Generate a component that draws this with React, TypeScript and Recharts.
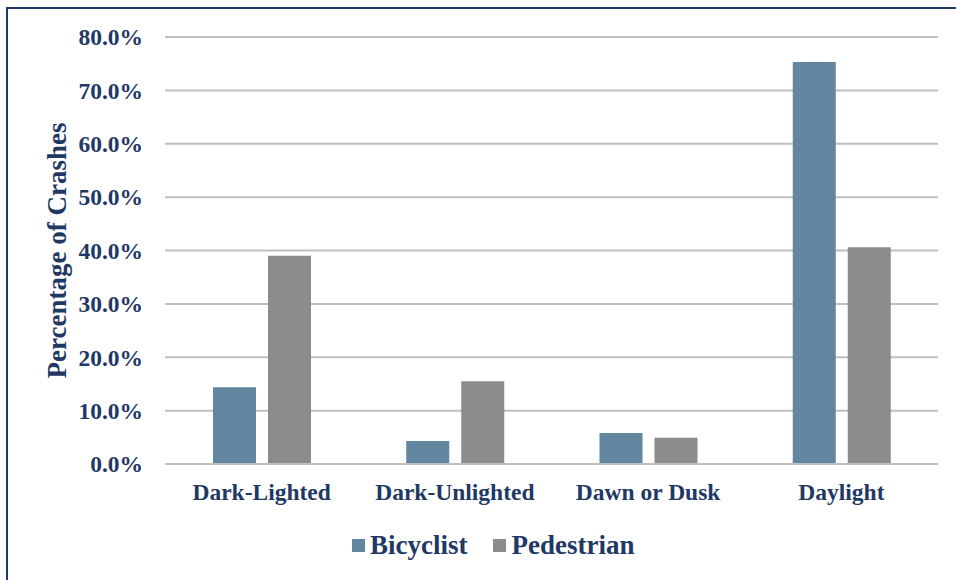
import { BarChart, Bar, XAxis, YAxis, CartesianGrid, Legend } from 'recharts';

const categories = ['Dark-Lighted', 'Dark-Unlighted', 'Dawn or Dusk', 'Daylight'];
const bicyclist = [14.4, 4.3, 5.8, 75.3];
const pedestrian = [39.0, 15.5, 4.9, 40.6];
const yTicks = [0, 10, 20, 30, 40, 50, 60, 70, 80];

const NAVY = '#1f3864';
const FONT = '"Liberation Serif", "Times New Roman", serif';
const BIKE_COLOR = '#62869f';
const PED_COLOR = '#8c8c8c';

const chartData = categories.map((name, i) => ({
  name,
  Bicyclist: bicyclist[i],
  Pedestrian: pedestrian[i],
}));

const tickStyle = { fill: NAVY, fontSize: 23.5, fontWeight: 700, fontFamily: FONT };

function LegendContent() {
  const items = [
    { label: 'Bicyclist', color: BIKE_COLOR },
    { label: 'Pedestrian', color: PED_COLOR },
  ];
  return (
    <div style={{ display: 'flex', alignItems: 'center', gap: 26, height: 36, paddingLeft: 352 }}>
      {items.map((it) => (
        <div key={it.label} style={{ display: 'flex', alignItems: 'center', gap: 5 }}>
          <span style={{ width: 13, height: 13, background: it.color, display: 'inline-block' }} />
          <span style={{ color: NAVY, fontSize: 27, fontWeight: 700, fontFamily: FONT, lineHeight: '36px' }}>
            {it.label}
          </span>
        </div>
      ))}
    </div>
  );
}

export default function App() {
  return (
    <div style={{ position: 'absolute', left: 0, top: 0, width: 956, height: 580, overflow: 'hidden', background: '#fff' }}>
      <div
        style={{
          position: 'absolute',
          left: 6,
          top: 7,
          width: 1000,
          height: 700,
          borderTop: `2px solid ${NAVY}`,
          borderLeft: `2px solid ${NAVY}`,
        }}
      />
      <div style={{ position: 'absolute', left: 0, top: 0 }}>
        <BarChart
          width={956}
          height={580}
          data={chartData}
          margin={{ top: 37, right: 18, left: 0, bottom: 17 }}
          barSize={43}
          barGap={12}
        >
          <CartesianGrid vertical={false} stroke="#bfbfbf" strokeWidth={2} />
          <XAxis
            dataKey="name"
            height={63}
            tickLine={false}
            axisLine={{ stroke: '#bfbfbf', strokeWidth: 2 }}
            tick={tickStyle}
            tickMargin={13}
            interval={0}
          />
          <YAxis
            width={165}
            domain={[0, 80]}
            ticks={yTicks}
            tickFormatter={(v: number) => `${v.toFixed(1)}%`}
            tickLine={false}
            axisLine={false}
            tick={tickStyle}
            tickMargin={16}
            label={{
              content: ({ viewBox }: any) => {
                const cx = viewBox.x + 57;
                const cy = viewBox.y + viewBox.height / 2;
                return (
                  <text
                    x={cx}
                    y={cy}
                    transform={`rotate(-90, ${cx}, ${cy})`}
                    textAnchor="middle"
                    dominantBaseline="central"
                    fill={NAVY}
                    fontSize={27}
                    fontWeight={700}
                    fontFamily={FONT}
                  >
                    Percentage of Crashes
                  </text>
                );
              },
            }}
          />
          <Legend
            verticalAlign="bottom"
            height={36}
            wrapperStyle={{ left: 0, width: 956 }}
            content={<LegendContent />}
          />
          <Bar dataKey="Bicyclist" fill={BIKE_COLOR} isAnimationActive={false} />
          <Bar dataKey="Pedestrian" fill={PED_COLOR} isAnimationActive={false} />
        </BarChart>
      </div>
    </div>
  );
}
